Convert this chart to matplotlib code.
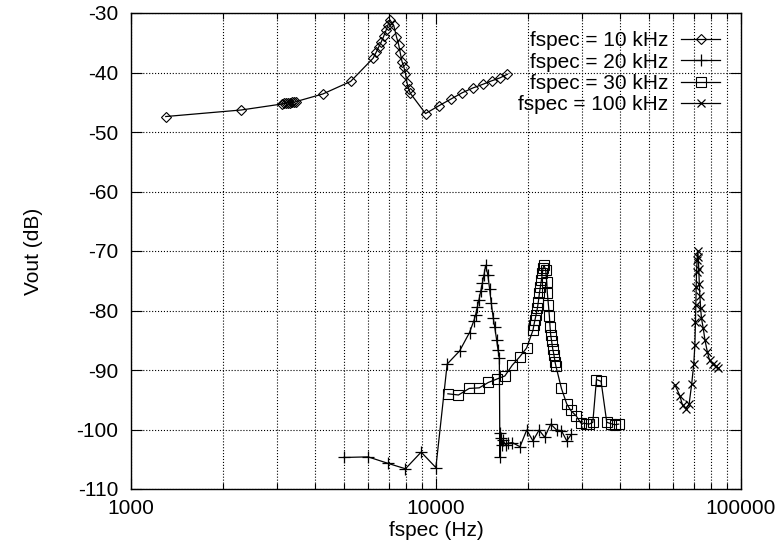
import matplotlib.pyplot as plt
from matplotlib.ticker import LogLocator, FixedLocator, NullFormatter

plt.rcParams['font.family'] = ['Liberation Sans', 'DejaVu Sans']
plt.rcParams['axes.unicode_minus'] = False

# fspec = 10 kHz
f10 = [1300, 2300, 3120, 3170, 3220, 3270, 3320, 3370, 3420, 3470, 4260, 5250,
       6220, 6380, 6490, 6610, 6740, 6860, 6950, 7050, 7270, 7420, 7550, 7640,
       7740, 7840, 7940, 8040, 8140, 8240, 9240, 10210, 11160, 12190, 13210,
       14210, 15220, 16210, 17140]
v10 = [-47.4, -46.3, -45.3, -45.2, -45.2, -45.1, -45.1, -45.0, -45.0, -44.9, -43.6, -41.5,
       -37.6, -36.5, -35.7, -34.9, -33.9, -32.9, -32.1, -31.1, -32.1, -34.0, -35.4, -36.8,
       -38.2, -39.0, -40.2, -41.8, -42.8, -43.5, -46.9, -45.6, -44.5, -43.4, -42.6,
       -42.0, -41.4, -40.9, -40.3]

# fspec = 20 kHz
f20 = [4980, 5990, 6970, 7940, 8940, 9990, 10880, 11950, 12880, 13310, 13480, 13660,
       13830, 14010, 14190, 14370, 14540, 14790, 14990, 15180, 15410, 15570, 15810,
       15970, 16130, 16200, 16250, 16300, 16400, 16600, 16900, 17200, 17800, 18850,
       19830, 20790, 21770, 22720, 23780, 24880, 25780, 26830, 27800]
v20 = [-104.7, -104.6, -105.7, -106.6, -103.8, -106.4, -89.0, -86.8, -83.7, -81.7, -80.8, -79.4,
       -78.2, -76.8, -75.4, -74.0, -72.4, -74.0, -76.4, -78.8, -81.3, -82.7, -85.0,
       -86.6, -88.0, -104.6, -100.6, -101.5, -102.6, -101.8, -102.6, -102.3, -102.2, -102.9,
       -100.1, -101.9, -100.1, -101.3, -99.1, -100.1, -100.2, -101.9, -100.8]

# fspec = 30 kHz
f30 = [10940, 11850, 12850, 13860, 14840, 15870, 16820, 17780, 18800, 19820, 20800,
       20950, 21110, 21270, 21500, 21660, 21830, 21990, 22160, 22330, 22430, 22600,
       22890, 23070, 23180, 23370, 23540, 23650, 23770, 23950, 24130, 24370, 24550,
       24740, 25780, 26830, 27660, 28800, 29830, 31000, 31760, 32670, 33580, 34770,
       36300, 37400, 38500, 39700]
v30 = [-94.0, -94.2, -93.1, -93.0, -92.1, -91.5, -91.0, -89.2, -87.8, -86.3, -83.3,
       -82.4, -81.6, -80.8, -79.6, -78.5, -77.1, -76.0, -74.9, -73.7, -72.9, -72.4,
       -73.2, -75.2, -77.1, -79.1, -81.0, -82.7, -84.1, -85.2, -86.4, -87.5, -88.6,
       -89.4, -93.1, -95.7, -96.8, -97.7, -98.9, -99.0, -99.1, -98.8, -91.6, -91.9,
       -98.8, -99.0, -99.2, -99.1]

# fspec = 100 kHz
f100 = [60700, 63000, 64300, 65900, 67600, 68900, 70000, 70600, 70900, 71100, 71300,
        71500, 71800, 72100, 72400, 72700, 73000, 73300, 73700, 74200, 75200, 76200,
        77600, 78900, 80800, 82600, 84300]
v100 = [-92.5, -94.3, -95.9, -96.5, -95.7, -92.4, -89.0, -85.8, -82.0, -79.0, -76.0,
        -73.5, -71.5, -70.0, -71.0, -73.0, -75.5, -77.5, -79.5, -81.3, -83.0, -85.0,
        -87.0, -88.4, -89.0, -89.4, -89.7]

labels = ['fspec = 10 kHz', 'fspec = 20 kHz', 'fspec = 30 kHz', 'fspec = 100 kHz']

fig = plt.figure(figsize=(7.77, 5.44), dpi=100)
ax = fig.add_axes([131 / 777, 1 - 489 / 544, 610 / 777, 476 / 544])

ax.plot(f10, v10, color='black', lw=0.9, marker='D', ms=5, mfc='none', mec='black', mew=0.8, label=labels[0])
ax.plot(f20, v20, color='black', lw=0.9, marker='+', ms=8, mew=0.9, label=labels[1])
ax.plot(f30, v30, color='black', lw=0.9, marker='s', ms=7, mfc='none', mec='black', mew=0.8, label=labels[2])
ax.plot(f100, v100, color='black', lw=0.9, marker='x', ms=6, mew=0.9, label=labels[3])

ax.set_xscale('log')
ax.set_xlim(1000, 100000)
ax.set_ylim(-110, -30)
ax.yaxis.set_major_locator(FixedLocator(range(-110, -29, 10)))
ax.xaxis.set_major_locator(FixedLocator([1000, 10000, 100000]))
ax.xaxis.set_minor_locator(LogLocator(base=10, subs=range(2, 10)))
ax.xaxis.set_minor_formatter(NullFormatter())
ax.set_xticklabels(['1000', '10000', '100000'])

ax.grid(True, which='both', axis='x', linestyle=':', color='black', lw=0.8)
ax.grid(True, which='major', axis='y', linestyle=':', color='black', lw=0.8)
ax.tick_params(which='both', direction='in', top=True, right=True, labelsize=15, width=0.8)
ax.tick_params(which='major', length=8)
ax.tick_params(which='minor', length=4)
ax.tick_params(axis='y', pad=9)
ax.tick_params(axis='x', pad=7)
for s in ax.spines.values():
    s.set_linewidth(1.0)

ax.set_xlabel('fspec (Hz)', fontsize=15, labelpad=2)
ax.set_ylabel('Vout (dB)', fontsize=15, labelpad=24)

ax.legend(loc='upper right', bbox_to_anchor=(720 / 777, 1 - 31 / 544), bbox_transform=fig.transFigure,
          markerfirst=False, frameon=False, fontsize=15, labelspacing=0.12, handlelength=1.85,
          handletextpad=0.65, borderpad=0, borderaxespad=0)

fig.savefig('out.png', dpi=100)
